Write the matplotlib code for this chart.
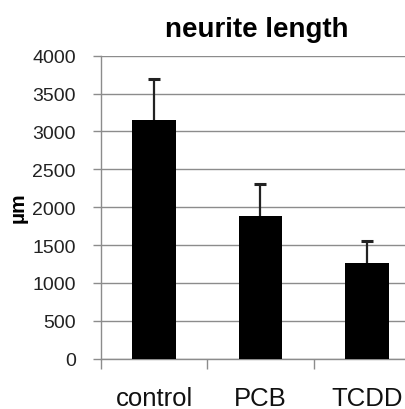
import matplotlib
matplotlib.use("Agg")
import matplotlib.pyplot as plt

categories = ["control", "PCB", "TCDD"]
values = [3150, 1880, 1265]
errors = [540, 420, 290]
yticks = [0, 500, 1000, 1500, 2000, 2500, 3000, 3500, 4000]

plt.rcParams['font.family'] = ['Liberation Sans', 'DejaVu Sans']

fig = plt.figure(figsize=(4.06, 4.10), dpi=100)
W, H = 406, 410
x0, x1 = 101, 420
y0, y1 = 359.7, 56.7
ax = fig.add_axes([x0 / W, 1 - y0 / H, (x1 - x0) / W, (y0 - y1) / H])

xs = list(range(len(categories)))
ax.bar(xs, values, width=0.41, color="black", zorder=3)
eb = ax.errorbar(xs, values, yerr=[[0] * len(errors), errors], fmt="none",
                 ecolor="#222222", elinewidth=1.6, capsize=4, capthick=2.2, zorder=4)
# hide the lower caps (only upward error bars in the original)
eb[1][0].set_visible(False)

ax.set_xlim(-0.5, 2.5)
ax.set_ylim(0, 4000)
ax.set_yticks(yticks)
ax.set_yticklabels([str(t) for t in yticks], fontsize=14, color="#222222")
ax.yaxis.grid(True, color="#8c8c8c", linewidth=1.0, zorder=0)
ax.set_axisbelow(True)

ax.set_xticks([-0.5, 0.5, 1.5])
ax.set_xticklabels([])
ax.set_xticks(xs, minor=True)
ax.set_xticklabels(categories, minor=True, fontsize=18.5, color="#111111")
ax.tick_params(axis="x", which="minor", length=0, pad=20)
ax.tick_params(axis="x", which="major", length=7, width=1.0, color="#8c8c8c", direction="out")
ax.tick_params(axis="y", length=6, width=1.0, color="#8c8c8c", direction="out", pad=12)

for s in ["top", "right"]:
    ax.spines[s].set_visible(False)
ax.spines["left"].set_color("#8c8c8c")
ax.spines["bottom"].set_color("#8c8c8c")
ax.spines["left"].set_linewidth(1.0)
ax.spines["bottom"].set_linewidth(1.0)

fig.text(257 / W, 1 - 30 / H, "neurite length", fontsize=20, fontweight="bold",
         ha="center", va="center")
fig.text(18 / W, 1 - 208 / H, "µm", fontsize=15, fontweight="bold",
         rotation=90, ha="center", va="center")

fig.savefig("out.png", dpi=100)
